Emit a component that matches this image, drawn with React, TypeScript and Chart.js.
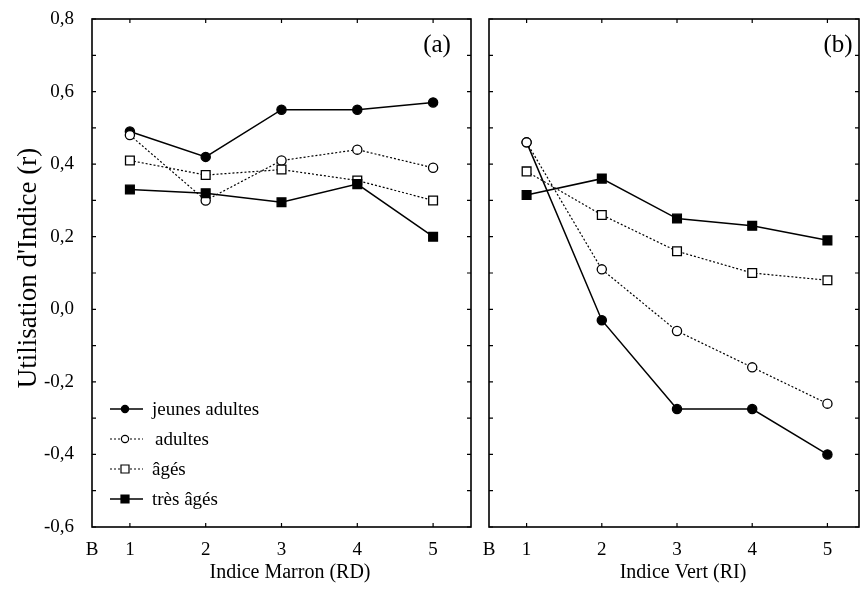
import { useEffect, useRef } from 'react';
import { Chart, registerables } from 'chart.js';

Chart.register(...registerables);

// x positions of the five index classes; "B" marks the left edge of each axis
const categories = [1, 2, 3, 4, 5];
const xTickValues = [0.5, 1, 2, 3, 4, 5];
const xTickLabels = ['B', '1', '2', '3', '4', '5'];

// y ticks every 0.1, labelled every 0.2
const yTickValues = [-0.6, -0.5, -0.4, -0.3, -0.2, -0.1, 0, 0.1, 0.2, 0.3, 0.4, 0.5, 0.6, 0.7, 0.8];
const yTickLabels = ['-0,6', '', '-0,4', '', '-0,2', '', '0,0', '', '0,2', '', '0,4', '', '0,6', '', '0,8'];

const seriesNames = ['jeunes adultes', 'adultes', 'âgés', 'très âgés'];

// (a) Indice Marron (RD)
const marronJeunesAdultes = [0.49, 0.42, 0.55, 0.55, 0.57];
const marronAdultes = [0.48, 0.3, 0.41, 0.44, 0.39];
const marronAges = [0.41, 0.37, 0.385, 0.355, 0.3];
const marronTresAges = [0.33, 0.32, 0.295, 0.345, 0.2];

// (b) Indice Vert (RI)
const vertJeunesAdultes = [0.46, -0.03, -0.275, -0.275, -0.4];
const vertAdultes = [0.46, 0.11, -0.06, -0.16, -0.26];
const vertAges = [0.38, 0.26, 0.16, 0.1, 0.08];
const vertTresAges = [0.315, 0.36, 0.25, 0.23, 0.19];

const SERIF = '"Liberation Serif", "DejaVu Serif", serif';

const seriesStyles = [
  { pointStyle: 'circle', radius: 4.6, fill: '#000', dash: [] as number[], width: 1.5 },
  { pointStyle: 'circle', radius: 4.6, fill: '#fff', dash: [2, 2], width: 1.2 },
  { pointStyle: 'rect', radius: 6.2, fill: '#fff', dash: [2, 2], width: 1.2 },
  { pointStyle: 'rect', radius: 6.2, fill: '#000', dash: [] as number[], width: 1.5 },
];

function buildDatasets(series: number[][]) {
  return series.map((vals, i) => {
    const st = seriesStyles[i];
    return {
      label: seriesNames[i],
      data: categories.map((c, j) => ({ x: c, y: vals[j] })),
      borderColor: '#000',
      borderWidth: st.width,
      borderDash: st.dash,
      pointStyle: st.pointStyle,
      pointRadius: st.radius,
      pointHoverRadius: st.radius,
      pointBackgroundColor: st.fill,
      pointBorderColor: '#000',
      pointBorderWidth: 1.3,
      tension: 0,
      fill: false,
      // first series is painted first, later ones on top
      order: series.length - i,
    };
  });
}

// box around the plot area with short inward tick marks
const framePlugin = {
  id: 'panelFrame',
  afterDraw(chart: any) {
    const { ctx, chartArea: a, scales } = chart;
    ctx.save();
    ctx.strokeStyle = '#000';
    ctx.lineWidth = 1.6;
    ctx.strokeRect(a.left, a.top, a.right - a.left, a.bottom - a.top);
    ctx.lineWidth = 1.2;
    ctx.beginPath();
    for (const v of yTickValues) {
      const py = scales.y.getPixelForValue(v);
      ctx.moveTo(a.left, py);
      ctx.lineTo(a.left + 4, py);
      ctx.moveTo(a.right, py);
      ctx.lineTo(a.right - 4, py);
    }
    for (const c of categories) {
      const px = scales.x.getPixelForValue(c);
      ctx.moveTo(px, a.top);
      ctx.lineTo(px, a.top + 4);
      ctx.moveTo(px, a.bottom);
      ctx.lineTo(px, a.bottom - 4);
    }
    ctx.stroke();
    ctx.restore();
  },
};

type TextSpec = {
  xTitle: string;
  xTitleX: number;
  panel: string;
  panelX: number;
  yTitle?: string;
};

function makeTextPlugin(spec: TextSpec) {
  return {
    id: 'panelText',
    afterDraw(chart: any) {
      const { ctx } = chart;
      ctx.save();
      ctx.fillStyle = '#000';
      ctx.textAlign = 'center';
      ctx.textBaseline = 'middle';
      ctx.font = `20px ${SERIF}`;
      ctx.fillText(spec.xTitle, spec.xTitleX, 573);
      ctx.font = `25px ${SERIF}`;
      ctx.fillText(spec.panel, spec.panelX, 45);
      if (spec.yTitle) {
        ctx.translate(29, 268);
        ctx.rotate(-Math.PI / 2);
        ctx.font = `27px ${SERIF}`;
        ctx.fillText(spec.yTitle, 0, 0);
      }
      ctx.restore();
    },
  };
}

// key with a line segment and marker per series
const keyPlugin = {
  id: 'seriesKey',
  afterDraw(chart: any) {
    const { ctx } = chart;
    ctx.save();
    ctx.font = `19px ${SERIF}`;
    ctx.textBaseline = 'middle';
    chart.data.datasets.forEach((ds: any, i: number) => {
      const y = 409 + i * 30;
      ctx.strokeStyle = '#000';
      ctx.lineWidth = ds.borderWidth;
      ctx.setLineDash(ds.borderDash);
      ctx.beginPath();
      ctx.moveTo(110, y);
      ctx.lineTo(143, y);
      ctx.stroke();
      ctx.setLineDash([]);
      ctx.lineWidth = 1.2;
      ctx.fillStyle = ds.pointBackgroundColor;
      ctx.beginPath();
      if (ds.pointStyle === 'circle') {
        ctx.arc(125, y, 3.6, 0, Math.PI * 2);
      } else {
        ctx.rect(121, y - 4, 8, 8);
      }
      ctx.fill();
      ctx.stroke();
      ctx.fillStyle = '#000';
      ctx.fillText(ds.label, i === 1 ? 155 : 152, y + 1);
    });
    ctx.restore();
  },
};

type PanelLayout = {
  padLeft: number;
  padRight: number;
  yWidth: number;
  xMax: number;
  showYLabels: boolean;
};

function panelOptions(p: PanelLayout): any {
  return {
    responsive: false,
    animation: false,
    devicePixelRatio: 1,
    events: [],
    layout: {
      autoPadding: false,
      padding: { left: p.padLeft, right: p.padRight, top: 19, bottom: 0 },
    },
    plugins: { legend: { display: false }, tooltip: { enabled: false } },
    scales: {
      x: {
        type: 'linear',
        min: 0.5,
        max: p.xMax,
        afterBuildTicks: (s: any) => {
          s.ticks = xTickValues.map((v) => ({ value: v }));
        },
        afterFit: (s: any) => {
          s.height = 73;
          s.paddingLeft = 0;
          s.paddingRight = 0;
        },
        grid: { display: false },
        border: { display: false },
        ticks: {
          color: '#000',
          font: { family: SERIF, size: 19 },
          padding: 4,
          maxRotation: 0,
          autoSkip: false,
          callback: (_v: any, i: number) => xTickLabels[i],
        },
      },
      y: {
        type: 'linear',
        min: -0.6,
        max: 0.8,
        afterBuildTicks: (s: any) => {
          s.ticks = yTickValues.map((v) => ({ value: v }));
        },
        afterFit: (s: any) => {
          s.width = p.yWidth;
          s.paddingTop = 0;
          s.paddingBottom = 0;
        },
        grid: { display: false },
        border: { display: false },
        ticks: {
          display: p.showYLabels,
          color: '#000',
          font: { family: SERIF, size: 19 },
          padding: 10,
          autoSkip: false,
          callback: (_v: any, i: number) => yTickLabels[i],
        },
      },
    },
  };
}

export default function App() {
  const leftRef = useRef<HTMLCanvasElement>(null);
  const rightRef = useRef<HTMLCanvasElement>(null);

  useEffect(() => {
    if (!leftRef.current || !rightRef.current) return;
    const left = new Chart(leftRef.current, {
      type: 'line',
      data: {
        datasets: buildDatasets([marronJeunesAdultes, marronAdultes, marronAges, marronTresAges]) as any,
      },
      options: panelOptions({ padLeft: 0, padRight: 390, yWidth: 92, xMax: 5.5, showYLabels: true }),
      plugins: [
        framePlugin,
        keyPlugin,
        makeTextPlugin({
          xTitle: 'Indice Marron (RD)',
          xTitleX: 290,
          panel: '(a)',
          panelX: 437,
          yTitle: "Utilisation d'Indice (r)",
        }),
      ],
    });
    const right = new Chart(rightRef.current, {
      type: 'line',
      data: {
        datasets: buildDatasets([vertJeunesAdultes, vertAdultes, vertAges, vertTresAges]) as any,
      },
      options: panelOptions({ padLeft: 489, padRight: 2, yWidth: 0, xMax: 5.42, showYLabels: false }),
      plugins: [
        framePlugin,
        makeTextPlugin({ xTitle: 'Indice Vert (RI)', xTitleX: 683, panel: '(b)', panelX: 838 }),
      ],
    });
    return () => {
      left.destroy();
      right.destroy();
    };
  }, []);

  const canvasStyle = { position: 'absolute' as const, left: 0, top: 0 };

  return (
    <div
      style={{
        position: 'absolute',
        left: 0,
        top: 0,
        width: 861,
        height: 600,
        overflow: 'hidden',
        background: '#fff',
      }}
    >
      <canvas ref={leftRef} width={861} height={600} style={canvasStyle} />
      <canvas ref={rightRef} width={861} height={600} style={canvasStyle} />
    </div>
  );
}
